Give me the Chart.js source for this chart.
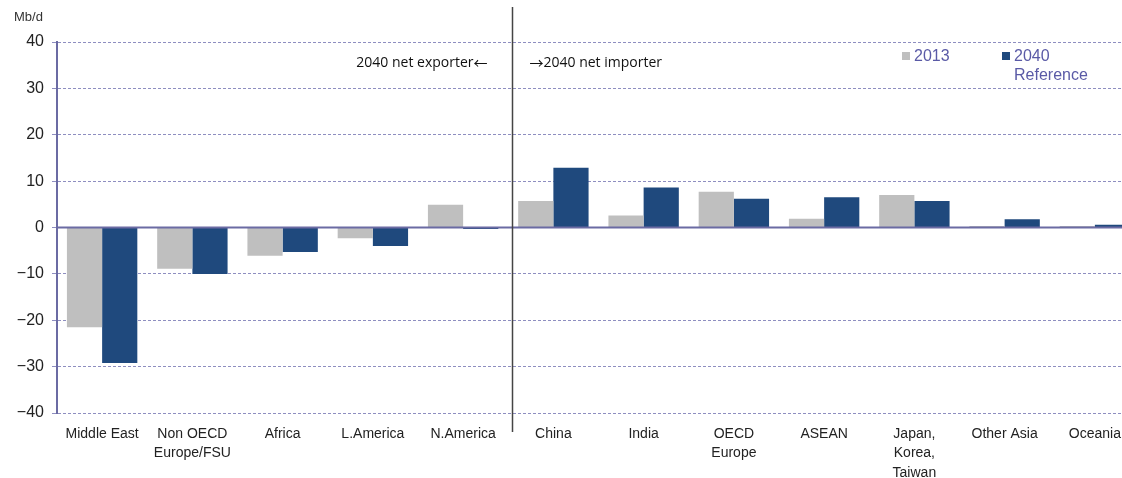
<!DOCTYPE html>
<html>
<head>
<meta charset="utf-8">
<script src="https://cdn.jsdelivr.net/npm/chart.js@4/dist/chart.umd.min.js"></script>
<style>
  html, body { margin: 0; padding: 0; background: #fff; overflow: hidden; width: 1122px; height: 478px; }
  #wrap { position: relative; width: 1150px; height: 478px; }
</style>
</head>
<body>
<div id="wrap"><canvas id="c"></canvas></div>
<script>
const categories = [
  'Middle East', ['Non OECD', 'Europe/FSU'], 'Africa', 'L.America', 'N.America',
  'China', 'India', ['OECD', 'Europe'], 'ASEAN', ['Japan,', 'Korea,', 'Taiwan'], 'Other Asia', 'Oceania'
];
const values2013 = [-21.5, -8.9, -6.1, -2.3, 4.9, 5.7, 2.6, 7.7, 1.9, 7.0, 0.3, 0.3];
const values2040 = [-29.2, -10.0, -5.3, -4.0, -0.3, 12.9, 8.6, 6.2, 6.5, 5.7, 1.8, 0.6];
const yTicks = [-40, -30, -20, -10, 0, 10, 20, 30, 40];
const seriesNames = ['2013', ['2040', 'Reference']];
const unitLabel = 'Mb/d';
const exporterText = '2040 net exporter';
const importerText = '2040 net importer';
const leftArrow = '\u2190';
const rightArrow = '\u2192';

const colors = ['#bfbfbf', '#1f497d'];
const axisColor = '#6b6ba3';
const gridColor = '#8e8ec0';
const legendText = '#5a5aa6';

const decor = {
  id: 'decor',
  afterDatasetsDraw(chart) {
    const ctx = chart.ctx;
    const x = chart.scales.x, y = chart.scales.y;
    ctx.save();
    // zero line
    const y0 = y.getPixelForValue(0);
    ctx.strokeStyle = axisColor;
    ctx.lineWidth = 2;
    ctx.beginPath();
    ctx.moveTo(x.left, y0);
    ctx.lineTo(x.right, y0);
    ctx.stroke();
    // divider
    const xd = Math.round((x.getPixelForValue(4) + x.getPixelForValue(5)) / 2 + 4) + 0.5;
    ctx.strokeStyle = '#444444';
    ctx.lineWidth = 1.5;
    ctx.beginPath();
    ctx.moveTo(xd, 7);
    ctx.lineTo(xd, y.bottom + 19);
    ctx.stroke();
    // annotations
    ctx.fillStyle = '#111';
    ctx.textBaseline = 'middle';
    const textFont = '14px "Open Sans", sans-serif';
    const arrowFont = '14px "Noto Sans CJK KR", "DejaVu Sans", sans-serif';
    // exporter: text then left arrow, right-aligned to xd-25
    ctx.textAlign = 'left';
    ctx.font = arrowFont;
    const aw = ctx.measureText(leftArrow).width;
    ctx.font = textFont;
    const tw = ctx.measureText(exporterText).width;
    let sx = xd - 25 - aw - tw;
    ctx.fillText(exporterText, sx, 63);
    ctx.font = arrowFont;
    ctx.fillText(leftArrow, sx + tw, 63);
    // importer: right arrow then text
    ctx.font = arrowFont;
    const aw2 = ctx.measureText(rightArrow).width;
    ctx.fillText(rightArrow, xd + 17, 63);
    ctx.font = textFont;
    ctx.fillText(importerText, xd + 17 + aw2, 63);
    // unit
    ctx.fillStyle = '#333';
    ctx.font = '13px "Liberation Sans", sans-serif';
    ctx.fillText(unitLabel, 14, 17);
    // legend
    const lx = [902, 1002];
    ctx.font = '16px "Liberation Sans", sans-serif';
    ctx.textBaseline = 'alphabetic';
    for (let i = 0; i < 2; i++) {
      ctx.fillStyle = colors[i];
      ctx.fillRect(lx[i], 52, 8, 8);
      ctx.fillStyle = legendText;
      const lines = Array.isArray(seriesNames[i]) ? seriesNames[i] : [seriesNames[i]];
      lines.forEach((t, k) => ctx.fillText(t, lx[i] + 12, 61 + k * 19));
    }
    ctx.restore();
  }
};

new Chart(document.getElementById('c'), {
  type: 'bar',
  data: {
    labels: categories,
    datasets: [
      { label: '2013', data: values2013, backgroundColor: colors[0], borderWidth: 0 },
      { label: '2040 Reference', data: values2040, backgroundColor: colors[1], borderWidth: 0 }
    ]
  },
  options: {
    responsive: true,
    maintainAspectRatio: false,
    animation: false,
    layout: { padding: { left: 0, right: 10, top: 42, bottom: 0 } },
    datasets: { bar: { categoryPercentage: 0.78, barPercentage: 1.0 } },
    plugins: { legend: { display: false }, tooltip: { enabled: false } },
    scales: {
      x: {
        grid: { display: false },
        border: { display: false },
        ticks: {
          color: '#222',
          font: { family: '"Liberation Sans", sans-serif', size: 14, lineHeight: 1.4 },
          padding: 3,
          maxRotation: 0,
          autoSkip: false
        },
        afterFit(s) { s.height = 65; }
      },
      y: {
        min: -40, max: 40,
        afterBuildTicks(s) { s.ticks = yTicks.map(v => ({ value: v })); },
        grid: { color: gridColor, lineWidth: 1, tickLength: 5, tickColor: gridColor },
        border: { display: true, color: axisColor, width: 2, dash: [3, 2] },
        ticks: {
          color: '#222',
          font: { family: '"Liberation Sans", sans-serif', size: 16 },
          padding: 8,
          callback: v => String(v).replace('-', '\u2212')
        },
        afterFit(s) { s.width = 57; }
      }
    }
  },
  plugins: [decor]
});
</script>
</body>
</html>
